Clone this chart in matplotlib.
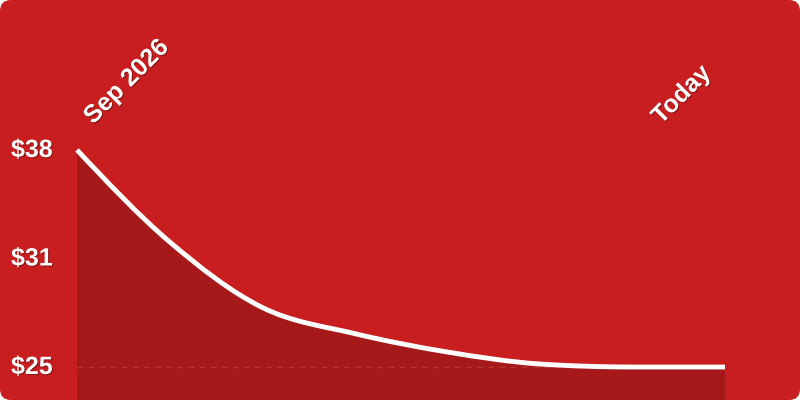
import numpy as np
import matplotlib
matplotlib.use('Agg')
import matplotlib.pyplot as plt
from matplotlib.path import Path
from matplotlib.patches import PathPatch, FancyBboxPatch
import matplotlib.patheffects as pe

# price, oldest (Sep 2026) to newest (Today)
prices = [38.0, 32.5, 28.57, 27.0, 25.9, 25.18, 25.0, 25.0]
steps = list(range(len(prices)))
y_ticks = [38.0, 31.5, 25.0]
y_labels = ['$38', '$31', '$25']
start_label = 'Sep 2026'
end_label = 'Today'

BG = '#C81E1F'
FILL = '#A5191A'
FONT = 'Liberation Sans'


def monotone_slopes(x, y):
    # same tangents as d3.curveMonotoneX
    x = np.asarray(x, float)
    y = np.asarray(y, float)
    n = len(x)
    h = np.diff(x)
    s = np.diff(y) / h
    t = np.zeros(n)
    for i in range(1, n - 1):
        p = (s[i - 1] * h[i] + s[i] * h[i - 1]) / (h[i - 1] + h[i])
        t[i] = (np.sign(s[i - 1]) + np.sign(s[i])) * min(abs(s[i - 1]), abs(s[i]), 0.5 * abs(p))
    t[0] = (3 * s[0] - t[1]) / 2
    t[-1] = (3 * s[-1] - t[-2]) / 2
    return t


def curve_path(x, y, bottom=None):
    t = monotone_slopes(x, y)
    verts = [(x[0], y[0])]
    codes = [Path.MOVETO]
    for i in range(len(x) - 1):
        dx = (x[i + 1] - x[i]) / 3
        verts += [(x[i] + dx, y[i] + dx * t[i]),
                  (x[i + 1] - dx, y[i + 1] - dx * t[i + 1]),
                  (x[i + 1], y[i + 1])]
        codes += [Path.CURVE4] * 3
    if bottom is not None:
        verts += [(x[-1], bottom), (x[0], bottom), (x[0], y[0])]
        codes += [Path.LINETO, Path.LINETO, Path.CLOSEPOLY]
    return Path(verts, codes)


fig = plt.figure(figsize=(8, 4), dpi=100, facecolor='white')
fig.patches.append(FancyBboxPatch((0, 0), 800, 400, boxstyle='round,pad=0,rounding_size=11',
                                  transform=None, facecolor=BG, edgecolor='none', zorder=-5))

ax = fig.add_axes([0, 0, 1, 1])
ax.set_zorder(1)
ax.patch.set_visible(False)
px_x = 648 / 7
px_y = 217 / 13
ax.set_xlim(-77 / px_x, 7 + 75 / px_x)
ax.set_ylim(25 - 33 / px_y, 38 + 150 / px_y)
ax.axis('off')

bottom = ax.get_ylim()[0]
ax.add_patch(PathPatch(curve_path(steps, prices, bottom), facecolor=FILL, edgecolor='none', zorder=1))
ax.hlines(min(prices), steps[0], steps[-1], colors='white', alpha=0.13, linewidth=1,
          linestyles=(0, (4, 4)), zorder=2)
ax.add_patch(PathPatch(curve_path(steps, prices), facecolor='none', edgecolor='white',
                       linewidth=3.5, capstyle='butt', zorder=3))

shadow = [pe.SimplePatchShadow(offset=(0.8, -0.8), shadow_rgbFace='black', alpha=0.3), pe.Normal()]
for v, lab in zip(y_ticks, y_labels):
    ax.text(-66 / px_x, v, lab, color='white', fontsize=18, fontweight='bold', family=FONT,
            ha='left', va='center', path_effects=shadow, zorder=4)

fig.text(93 / 800, 1 - 125 / 400, start_label, color='white', fontsize=18, fontweight='bold',
         family=FONT, rotation=45, rotation_mode='anchor', ha='left', va='baseline',
         path_effects=shadow, zorder=5)
fig.text(661 / 800, 1 - 125 / 400, end_label, color='white', fontsize=18, fontweight='bold',
         family=FONT, rotation=45, rotation_mode='anchor', ha='left', va='baseline',
         path_effects=shadow, zorder=5)

fig.savefig('out.png', dpi=100, facecolor='white')
